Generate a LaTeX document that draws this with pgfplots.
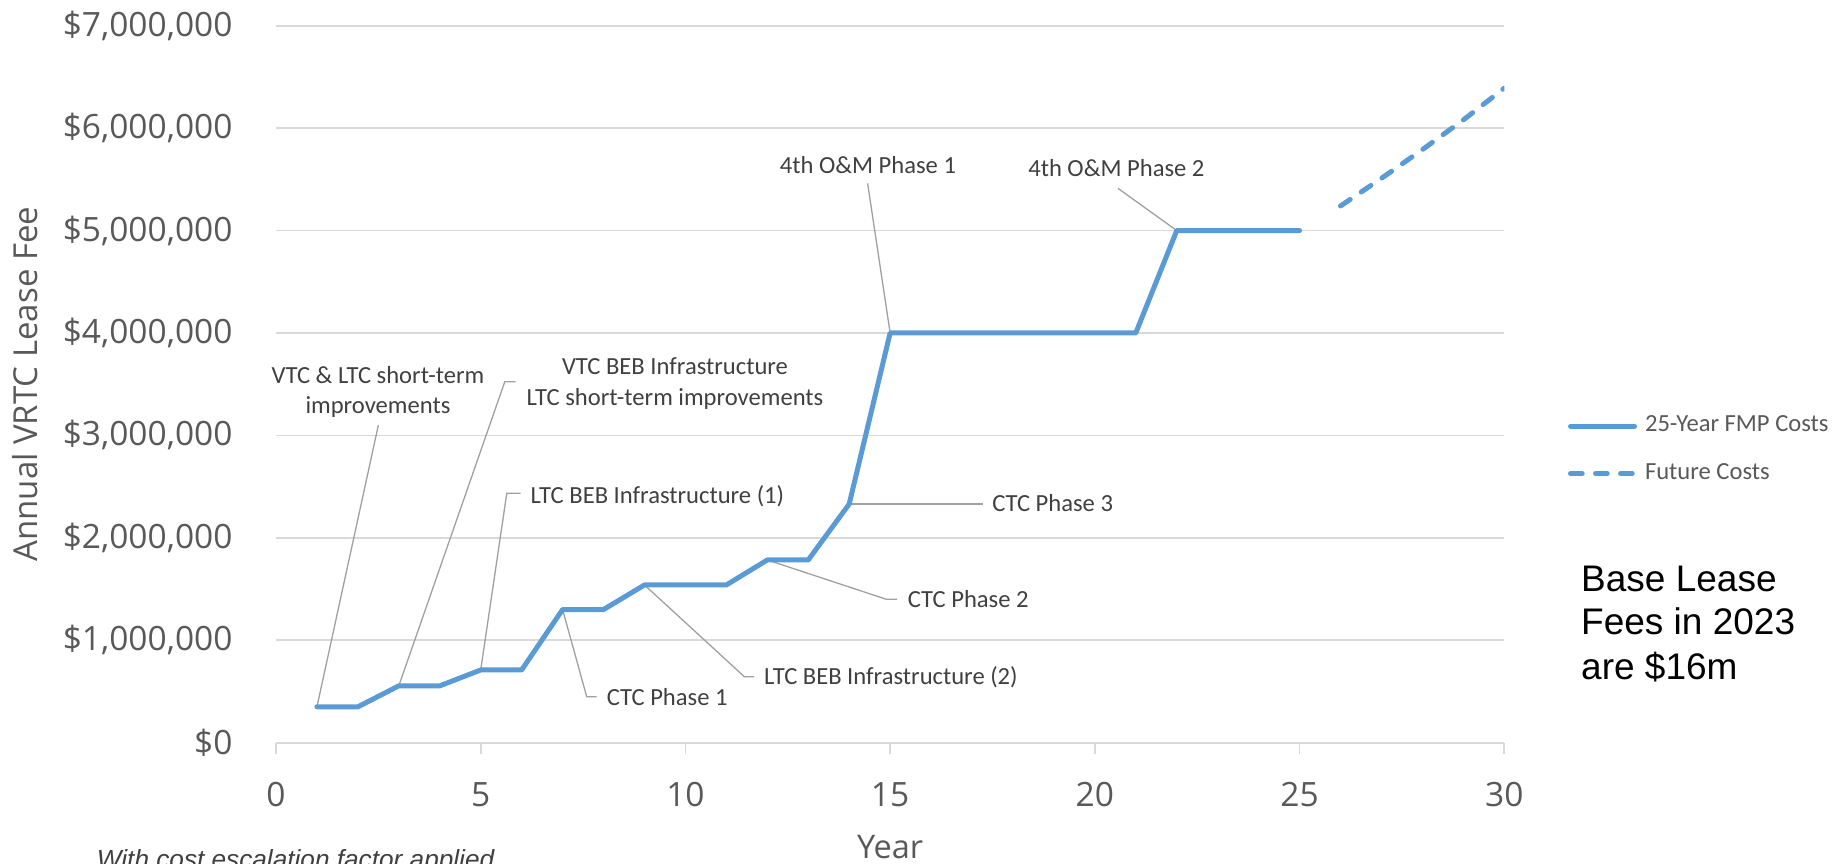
\documentclass[border=0pt]{standalone}
\usepackage{pgfplots}
\pgfplotsset{compat=1.18}
\usepackage{fontspec}
\setmainfont{Open Sans}
\newfontfamily\calib{Carlito}
\newfontfamily\arialf{Liberation Sans}
\definecolor{lineblue}{HTML}{5B9BD5}
\definecolor{gridgray}{HTML}{D9D9D9}
\definecolor{ticktext}{HTML}{595959}
\definecolor{calltext}{HTML}{404040}
\definecolor{leadergray}{HTML}{A0A0A0}
\tikzset{
  callout/.style={font=\calib\fontsize{24.6}{30.6}\selectfont, text=calltext, inner sep=0pt, align=center},
  leaderline/.style={draw=leadergray, line width=1.3pt},
}

\begin{document}
\begin{tikzpicture}
\useasboundingbox (0,0) rectangle (1844pt,864pt);
\begin{axis}[
  at={(276pt,121.3pt)}, anchor=south west,
  scale only axis, width=1228.3pt, height=717pt,
  xmin=0, xmax=30, ymin=0, ymax=7000000,
  clip mode=individual,
  axis lines*=left,
  x axis line style={draw=gridgray, line width=1.8pt},
  y axis line style={draw=none},
  ymajorgrids, grid style={draw=gridgray, line width=1.8pt},
  xtick={0,5,10,15,20,25,30}, xticklabels={0,5,10,15,20,25,30},
  ytick={0,1000000,2000000,3000000,4000000,5000000,6000000,7000000},
  yticklabels={{\$0},{\$1,000,000},{\$2,000,000},{\$3,000,000},{\$4,000,000},{\$5,000,000},{\$6,000,000},{\$7,000,000}},
  scaled y ticks=false,
  tick align=outside, major tick length=11pt,
  xtick style={draw=gridgray, line width=1.8pt},
  ytick style={draw=none},
  tick label style={font=\fontsize{33.5}{40}\selectfont, text=ticktext},
  xticklabel style={yshift=-25pt},
  yticklabel style={xshift=-29pt},
  xlabel={Year},
  xlabel style={font=\fontsize{32.5}{38}\selectfont, text=ticktext, at={(axis description cs:0.5,-0.145)}, anchor=center, inner sep=0pt},
  ylabel={Annual VRTC Lease Fee},
  ylabel style={font=\fontsize{33}{40}\selectfont, text=ticktext, at={(axis description cs:-0.204,0.5)}, anchor=center, inner sep=0pt},
  legend style={at={(axis description cs:1.0519,0.4084)}, anchor=west, draw=none, fill=none,
    inner sep=0pt, outer sep=0pt, font=\calib\fontsize{24.6}{30}\selectfont, text=ticktext,
    row sep=26.5pt, column sep=8pt, nodes={inner sep=0pt, text height=16pt, text depth=5pt}},
  legend cell align=left,
  legend image code/.code={\draw[#1] (0pt,0pt) -- (64pt,0pt);},
]
\draw[leaderline] (axis cs:1,350000) -- (axis cs:2.50,3100000);
\draw[leaderline] (axis cs:3,555000) -- (axis cs:5.588,3524000) -- (axis cs:5.85,3524000);
\draw[leaderline] (axis cs:5,710000) -- (axis cs:5.637,2435000) -- (axis cs:5.974,2435000);
\draw[leaderline] (axis cs:7,1300000) -- (axis cs:7.589,449000) -- (axis cs:7.833,449000);
\draw[leaderline] (axis cs:9,1540000) -- (axis cs:11.44,644000) -- (axis cs:11.68,644000);
\draw[leaderline] (axis cs:12,1784000) -- (axis cs:14.91,1400000) -- (axis cs:15.17,1400000);
\draw[leaderline] (axis cs:14,2330000) -- (axis cs:17.26,2330000);
\draw[leaderline] (axis cs:15,4000000) -- (axis cs:14.45,5461000);
\draw[leaderline] (axis cs:22,5000000) -- (axis cs:20.565,5412000);

\addplot[draw=lineblue, line width=5pt, line join=round, line cap=round] coordinates {
  (1,350000) (2,350000) (3,555000) (4,555000) (5,710000) (6,710000)
  (7,1300000) (8,1300000) (9,1540000) (10,1540000) (11,1540000)
  (12,1784000) (13,1784000) (14,2330000) (15,4000000) (16,4000000)
  (17,4000000) (18,4000000) (19,4000000) (20,4000000) (21,4000000)
  (22,5000000) (23,5000000) (24,5000000) (25,5000000)
};
\addlegendentry{25-Year FMP Costs}
\addplot[draw=lineblue, line width=5pt, line cap=round, dash pattern=on 11.7pt off 13.3pt] coordinates {
  (26,5240000) (27,5510000) (28,5790000) (29,6080000) (30,6390000)
};
\addlegendentry{Future Costs}

\node[callout] at (axis cs:2.49,3424000) {VTC \& LTC short-term\\improvements};
\node[callout] at (axis cs:9.745,3505000) {VTC BEB Infrastructure\\LTC short-term improvements};
\node[callout, anchor=west] at (axis cs:6.216,2408000) {LTC BEB Infrastructure (1)};
\node[callout, anchor=west] at (axis cs:8.077,449000) {CTC Phase 1};
\node[callout, anchor=west] at (axis cs:11.92,644000) {LTC BEB Infrastructure (2)};
\node[callout, anchor=west] at (axis cs:15.43,1400000) {CTC Phase 2};
\node[callout, anchor=west] at (axis cs:17.49,2337000) {CTC Phase 3};
\node[callout] at (axis cs:14.457,5640000) {4th O\&M Phase 1};
\node[callout] at (axis cs:20.526,5608000) {4th O\&M Phase 2};
\end{axis}

\node[anchor=base west, inner sep=0pt, font=\arialf\fontsize{37}{44}\selectfont] at (1581pt,272.3pt) {Base Lease};
\node[anchor=base west, inner sep=0pt, font=\arialf\fontsize{37}{44}\selectfont] at (1581pt,229pt) {Fees in 2023};
\node[anchor=base west, inner sep=0pt, font=\arialf\fontsize{37}{44}\selectfont] at (1581pt,184pt) {are \$16m};
\node[anchor=base west, inner sep=0pt, text=calltext, font=\arialf\itshape\fontsize{26.2}{31}\selectfont] at (96.7pt,-4.8pt) {With cost escalation factor applied};
\end{tikzpicture}
\end{document}
